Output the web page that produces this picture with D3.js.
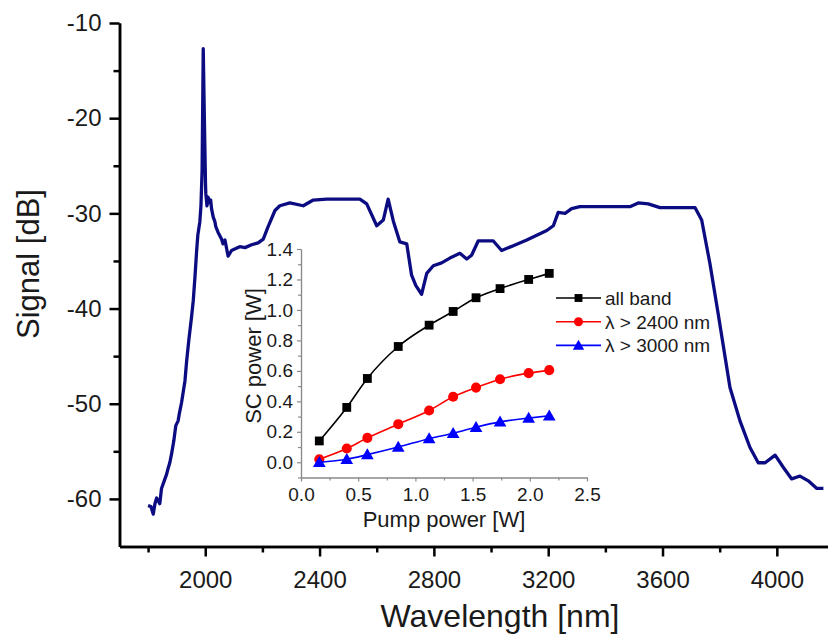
<!DOCTYPE html>
<html>
<head>
<meta charset="utf-8">
<script src="https://cdnjs.cloudflare.com/ajax/libs/d3/7.8.5/d3.min.js"></script>
<style>
  body { margin: 0; background: #fff; }
  text { font-family: "Liberation Sans", Arial, sans-serif; fill: #1a1a1a; }
</style>
</head>
<body>
<div id="chart"></div>
<script>
// main spectrum: wavelength [nm] and signal [dB]
const wavelength = [1800, 1810, 1818, 1824, 1830, 1841, 1847, 1859, 1865, 1870, 1876, 1882, 1890, 1897, 1905, 1909, 1917,
  1929, 1935, 1943, 1952, 1958, 1964, 1970, 1974, 1981, 1985, 1989, 1993, 1997, 2001, 2002, 2006, 2010, 2015, 2019,
  2022, 2028, 2034, 2037, 2045, 2057, 2062, 2069, 2080, 2092, 2107, 2121, 2139, 2162, 2185, 2203, 2220, 2244, 2261,
  2296, 2343, 2378, 2425, 2541, 2565, 2600, 2623, 2640, 2658, 2681, 2705, 2722, 2737, 2757, 2775, 2798, 2827, 2856,
  2891, 2915, 2932, 2955, 3008, 3037, 3078, 3125, 3160, 3195, 3218, 3235, 3259, 3282, 3311, 3486, 3515, 3550, 3591,
  3714, 3737, 3766, 3795, 3836, 3871, 3906, 3935, 3959, 3994, 4023, 4052, 4081, 4110, 4140, 4163];
const signal = [-60.7, -60.8, -61.6, -60.5, -59.9, -60.5, -58.9, -57.9, -57.4, -56.8, -56.2, -55.3, -53.9, -52.3, -51.8, -51.1, -49.9,
  -47.6, -45.5, -43.2, -40.9, -39.2, -36.7, -33.9, -32.3, -30.9, -29.2, -25.5, -12.7, -20.2, -27.0, -27.9, -29.2, -28.3, -28.9, -28.6,
  -29.5, -30.4, -30.9, -31.4, -32.0, -32.7, -33.2, -32.8, -34.5, -33.9, -33.7, -33.5, -33.6, -33.3, -33.1, -32.7, -31.4, -29.7, -29.2,
  -28.9, -29.2, -28.6, -28.5, -28.5, -29.0, -31.3, -30.7, -28.5, -30.8, -33.0, -33.2, -36.5, -37.6, -38.5, -36.3, -35.5, -35.2, -34.7,
  -34.2, -34.8, -34.4, -32.9, -32.9, -33.9, -33.4, -32.8, -32.3, -31.8, -31.3, -29.9, -30.0, -29.5, -29.3, -29.3, -28.9, -29.0, -29.4,
  -29.4, -30.7, -35.3, -40.6, -48.3, -51.8, -54.6, -56.2, -56.2, -55.4, -56.7, -57.9, -57.6, -58.1, -58.9, -58.9];

// inset: SC power vs pump power
const pump = [0.16, 0.40, 0.58, 0.85, 1.12, 1.33, 1.53, 1.74, 1.99, 2.17];
const allBand = [0.14, 0.36, 0.55, 0.76, 0.90, 0.99, 1.08, 1.14, 1.20, 1.24];
const above2400 = [0.02, 0.09, 0.16, 0.25, 0.34, 0.43, 0.49, 0.545, 0.585, 0.605];
const above3000 = [0.0, 0.02, 0.05, 0.10, 0.155, 0.19, 0.23, 0.265, 0.29, 0.305];
const seriesNames = ["all band", "\u03bb > 2400 nm", "\u03bb > 3000 nm"];
const seriesColors = ["#000000", "#ff0000", "#0000ff"];

const xTicksMain = [2000, 2400, 2800, 3200, 3600, 4000];
const yTicksMain = [-10, -20, -30, -40, -50, -60];

const W = 828, H = 635;
const svg = d3.select("#chart").append("svg").attr("width", W).attr("height", H);

// ---------- main chart ----------
const x = d3.scaleLinear().domain([1700, 4200]).range([119.5, 834]);
const y = d3.scaleLinear().domain([-65, -10]).range([546.5, 23]);

const spectrum = wavelength.map((w, i) => [w, signal[i]]);
svg.append("path")
  .datum(spectrum)
  .attr("fill", "none")
  .attr("stroke", "#0c0c82")
  .attr("stroke-width", 3.3)
  .attr("stroke-linejoin", "round")
  .attr("d", d3.line().x(d => x(d[0])).y(d => y(d[1])));

// axes (Origin style: outward ticks, thick black lines)
const xAxis = svg.append("g").attr("transform", "translate(0,546.5)");
xAxis.call(d3.axisBottom(x).tickValues(xTicksMain).tickSize(10).tickPadding(14)
  .tickFormat(d => String(d)).tickSizeOuter(0));
const xMinor = svg.append("g").attr("transform", "translate(0,546.5)");
xMinor.call(d3.axisBottom(x).tickValues(d3.range(1800, 4300, 400)).tickSize(6).tickFormat("").tickSizeOuter(0));

const yAxis = svg.append("g").attr("transform", "translate(119.5,0)");
yAxis.call(d3.axisLeft(y).tickValues(yTicksMain).tickSize(10).tickPadding(8)
  .tickFormat(d => String(d)).tickSizeOuter(0));
const yMinor = svg.append("g").attr("transform", "translate(119.5,0)");
yMinor.call(d3.axisLeft(y).tickValues(d3.range(-15, -64, -10)).tickSize(6).tickFormat("").tickSizeOuter(0));

[xAxis, xMinor, yAxis, yMinor].forEach(g => {
  g.selectAll("path").attr("stroke", "#000").attr("stroke-width", 2.5);
  g.selectAll("line").attr("stroke", "#000").attr("stroke-width", 2.5);
  g.selectAll("text").style("font-size", "24px").attr("fill", "#1a1a1a");
});

svg.append("text")
  .attr("text-anchor", "middle")
  .attr("x", 500).attr("y", 627)
  .style("font-size", "32px")
  .text("Wavelength [nm]");

svg.append("text")
  .attr("text-anchor", "middle")
  .attr("transform", "translate(39,264) rotate(-90)")
  .style("font-size", "31px")
  .text("Signal [dB]");

// ---------- inset ----------
const xi = d3.scaleLinear().domain([0, 2.5]).range([301, 587]);
const yi = d3.scaleLinear().domain([-0.1, 1.4]).range([477.5, 249]);
const inset = svg.append("g");

const ixAxis = inset.append("g").attr("transform", "translate(0,477.5)")
  .call(d3.axisBottom(xi).tickValues(d3.range(0, 2.51, 0.5)).tickSize(4).tickPadding(6)
    .tickFormat(d3.format(".1f")).tickSizeOuter(0));
const ixMinor = inset.append("g").attr("transform", "translate(0,477.5)")
  .call(d3.axisBottom(xi).tickValues(d3.range(0.25, 2.5, 0.5)).tickSize(3).tickFormat("").tickSizeOuter(0));
const iyAxis = inset.append("g").attr("transform", "translate(301,0)")
  .call(d3.axisLeft(yi).tickValues(d3.range(0, 1.41, 0.2)).tickSize(4).tickPadding(4)
    .tickFormat(d3.format(".1f")).tickSizeOuter(0));
const iyMinor = inset.append("g").attr("transform", "translate(301,0)")
  .call(d3.axisLeft(yi).tickValues(d3.range(-0.1, 1.4, 0.2)).tickSize(3).tickFormat("").tickSizeOuter(0));

[ixAxis, ixMinor, iyAxis, iyMinor].forEach(g => {
  g.selectAll("path").attr("stroke", "#8a8a8a").attr("stroke-width", 1.2);
  g.selectAll("line").attr("stroke", "#8a8a8a").attr("stroke-width", 1.2);
  g.selectAll("text").style("font-size", "19px").attr("fill", "#222");
});

inset.append("text")
  .attr("text-anchor", "middle")
  .attr("x", 444).attr("y", 527)
  .style("font-size", "22px")
  .text("Pump power [W]");

inset.append("text")
  .attr("text-anchor", "middle")
  .attr("transform", "translate(261,356) rotate(-90)")
  .style("font-size", "22px")
  .text("SC power [W]");

const symbols = [d3.symbolSquare, d3.symbolCircle, d3.symbolTriangle];
const symSizes = [78, 80, 70];
const allSeries = [allBand, above2400, above3000];
const lineI = d3.line().x(d => xi(d[0])).y(d => yi(d[1])).curve(d3.curveMonotoneX);

allSeries.forEach((vals, k) => {
  const pts = pump.map((p, i) => [p, vals[i]]);
  inset.append("path")
    .datum(pts)
    .attr("fill", "none")
    .attr("stroke", seriesColors[k])
    .attr("stroke-width", 1.6)
    .attr("d", lineI);
  inset.selectAll(null)
    .data(pts)
    .enter()
    .append("path")
      .attr("transform", d => `translate(${xi(d[0])},${yi(d[1]) + (k === 2 ? 1 : 0)})`)
      .attr("d", d3.symbol().type(symbols[k]).size(symSizes[k]))
      .attr("fill", seriesColors[k]);
});

// legend
const legend = inset.append("g");
seriesNames.forEach((name, k) => {
  const ly = 298 + k * 23.7;
  legend.append("line")
    .attr("x1", 556).attr("x2", 601).attr("y1", ly).attr("y2", ly)
    .attr("stroke", seriesColors[k]).attr("stroke-width", 1.6);
  legend.append("path")
    .attr("transform", `translate(578.5,${ly + (k === 2 ? 1 : 0)})`)
    .attr("d", d3.symbol().type(symbols[k]).size(symSizes[k] * 0.8))
    .attr("fill", seriesColors[k]);
  legend.append("text")
    .attr("x", 605).attr("y", ly + 7)
    .style("font-size", "19px")
    .text(name);
});
</script>
</body>
</html>
